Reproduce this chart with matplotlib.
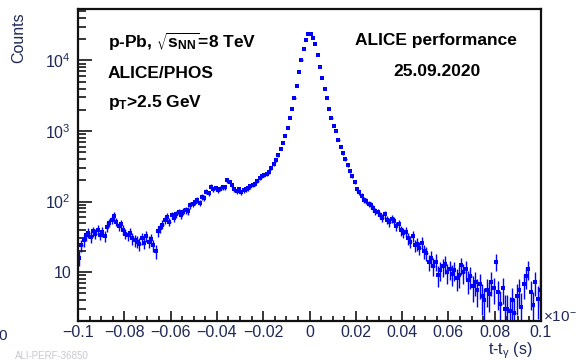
import numpy as np
import matplotlib
matplotlib.use("Agg")
import matplotlib.pyplot as plt
from matplotlib.ticker import FixedLocator, MultipleLocator, LogLocator, NullFormatter

plt.rcParams['font.family'] = ['Liberation Sans', 'DejaVu Sans']

# ---- data: 200 bins of width 0.001 (x10^-6 s) ----
bin_edges_lo = -0.1
bin_width = 0.001
counts = [
    16, 24, 28, 33, 36, 31, 38, 35, 40, 34,
    37, 32, 44, 50, 55, 62, 52, 45, 48, 40,
    35, 33, 36, 30, 28, 27, 25, 30, 26, 32,
    27, 29, 24, 20, 38, 42, 47, 55, 60, 52,
    64, 58, 66, 70, 64, 72, 76, 74, 88, 92,
    99, 105, 96, 117, 112, 138, 130, 162, 150, 155,
    145, 152, 160, 158, 200, 190, 170, 150, 140, 148,
    135, 145, 150, 155, 165, 172, 180, 195, 215, 232,
    238, 246, 265, 296, 337, 388, 452, 556, 682, 850,
    1100, 1510, 2070, 2940, 4350, 6940, 10100, 14400, 19500, 23500,
    24000, 21000, 17000, 12000, 8170, 5650, 3900, 2970, 2070, 1530,
    1190, 984, 745, 599, 483, 397, 330, 271, 230, 189,
    150, 136, 120, 105, 101, 92, 89, 81, 73, 71,
    64, 58, 66, 55, 51, 57, 53, 45, 48, 39,
    36, 37, 30, 27, 32, 24, 25, 22, 26, 20,
    18.6, 13.9, 15.8, 12.2, 14, 9.1, 10.7, 12, 13, 10,
    11, 9.4, 10.7, 8.2, 9, 12.5, 10, 11, 7.7, 8.7,
    6.3, 7.2, 5.6, 6.8, 4.6, 4, 5.6, 4.9, 7.2, 5.9,
    14, 5.2, 3.5, 5.9, 3.0, 3.0, 2.8, 4, 2.6, 4.6,
    5.6, 3.2, 6.8, 8.7, 11, 5.2, 3.4, 7.2, 4.2, 5.6,
]
x_ticks = [-0.1, -0.08, -0.06, -0.04, -0.02, 0, 0.02, 0.04, 0.06, 0.08, 0.1]
x_tick_labels = ["\u22120.1", "\u22120.08", "\u22120.06", "\u22120.04", "\u22120.02", "0",
                 "0.02", "0.04", "0.06", "0.08", "0.1"]
y_ticks = [10, 100, 1000, 10000]
y_tick_labels = ["10", r"$\mathregular{10^{2}}$", r"$\mathregular{10^{3}}$", r"$\mathregular{10^{4}}$"]

counts = np.array(counts, dtype=float)
centers = bin_edges_lo + bin_width * (np.arange(len(counts)) + 0.5)
errors = np.sqrt(counts)

W, H = 576, 361
fig = plt.figure(figsize=(W / 100, H / 100), dpi=100)
ax = fig.add_axes([78 / W, 1 - 321 / H, (541 - 78) / W, (321 - 9) / H])

blue = '#0000ff'
lo = np.minimum(errors, counts - 1e-3)
ax.errorbar(centers, counts, yerr=[lo, errors], xerr=bin_width / 2, fmt='s', ms=2.2,
            color=blue, ecolor=blue, elinewidth=1.0, capsize=0, mec=blue, mew=0)

ax.set_yscale('log')
ax.set_xlim(-0.1, 0.1)
ax.set_ylim(2.02, 53700)

lab_col = '#1f2858'
ax.xaxis.set_major_locator(FixedLocator(x_ticks))
ax.set_xticklabels(x_tick_labels)
ax.xaxis.set_minor_locator(MultipleLocator(0.005))
ax.yaxis.set_major_locator(FixedLocator(y_ticks))
ax.set_yticklabels(y_tick_labels)
ax.yaxis.set_minor_locator(LogLocator(base=10, subs=np.arange(2, 10)))
ax.yaxis.set_minor_formatter(NullFormatter())

ax.tick_params(axis='x', which='major', direction='in', length=7, width=1.1, pad=3,
               labelsize=11.5, labelcolor=lab_col, top=False)
ax.tick_params(axis='x', which='minor', direction='in', length=3.5, width=1.1, top=False)
ax.tick_params(axis='y', which='major', direction='in', length=10, width=1.1, pad=5,
               labelsize=11.5, labelcolor=lab_col, right=False)
ax.tick_params(axis='y', which='minor', direction='in', length=6, width=1.1, right=False)
for s in ax.spines.values():
    s.set_linewidth(1.6)
    s.set_color('#111111')

# axis titles
fig.text(533 / W, 1 - 351 / H, r"t-t$_{\mathregular{\gamma}}$ (s)", ha='right', va='center',
         fontsize=11.5, color=lab_col)
fig.text(19 / W, 1 - 12 / H, "Counts", rotation=90, ha='center', va='top',
         fontsize=11.5, color=lab_col)
fig.text(543 / W, 1 - 316 / H, r"$\mathregular{\times10^{-6}}$", ha='left', va='center',
         fontsize=11, color=lab_col)

# annotations
tk = dict(fontsize=12.5, fontweight='bold', color='black', va='center', ha='left')
fig.text(108 / W, 1 - 42 / H, r"p-Pb, $\mathregular{\sqrt{s_{NN}}}$=8 TeV", **tk)
fig.text(108 / W, 1 - 74 / H, "ALICE/PHOS", **tk)
fig.text(108 / W, 1 - 103 / H, r"$\mathregular{p_{T}}$>2.5 GeV", **tk)
fig.text(355 / W, 1 - 41 / H, "ALICE performance", **tk)
fig.text(437 / W, 1 - 72 / H, "25.09.2020", **dict(tk, ha='center'))

# cropped remnants at the edges
fig.text(-2 / W, 1 - 336 / H, "0", fontsize=11, color=lab_col, ha='left', va='center')
fig.text(15 / W, 1 - 356 / H, "ALI-PERF-36850", fontsize=7, color='#c8c8d0', ha='left', va='center')

fig.savefig("out.png", dpi=100, facecolor='white')
